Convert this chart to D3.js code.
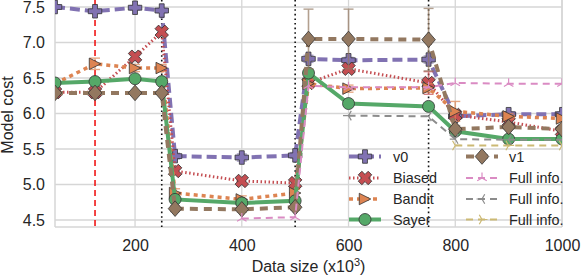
<!DOCTYPE html>
<html><head><meta charset="utf-8">
<script src="https://cdn.jsdelivr.net/npm/d3@7"></script>
<style>body{margin:0;background:#fff;} svg{display:block;font-family:"Liberation Sans",Arial,sans-serif;}</style>
</head><body>
<svg id="c" width="581" height="278"></svg>
<script>
// ---- data ----
const xs = [50,125,200,250,275,400,500,525,600,750,800,900,1000];
const v0     = [7.50,7.44,7.49,7.45,5.40,5.38,5.41,6.77,6.75,6.76,5.96,5.99,5.99];
const biased = [6.30,6.30,6.80,7.15,5.19,5.05,5.02,6.43,6.63,6.43,5.98,5.88,5.75];
const bandit = [6.42,6.70,6.64,6.64,4.88,4.79,4.88,6.42,6.35,6.36,6.03,5.96,5.93];
const sayer  = [6.43,6.45,6.49,6.45,4.79,4.74,4.77,6.57,6.14,6.10,5.75,5.64,5.64];
const v1     = [6.29,6.29,6.29,6.29,4.66,4.65,4.68,7.05,7.05,7.04,5.78,5.81,5.78];
const v0Err     = [0.03,0.03,0.03,0.03,0.04,0.05,0.04,0.05,0.04,0.05,0.04,0.03,0.03];
const biasedErr = [0.03,0.03,0.05,0.05,0.05,0.04,0.05,0.06,0.05,0.16,0.05,0.04,0.04];
const banditErr = [0.03,0.08,0.05,0.05,0.06,0.05,0.05,0.06,0.05,0.06,0.14,0.04,0.04];
const sayerErr  = [0.02,0.02,0.02,0.02,0.03,0.03,0.03,0.04,0.03,0.03,0.03,0.02,0.02];
const v1Err     = [0.02,0.02,0.02,0.02,0.04,0.04,0.04,0.42,0.42,0.44,0.05,0.03,0.03];
const fullA_x = [400,500,525,600,750,800,900,1000];
const fullA   = [4.52,4.54,6.39,6.37,6.37,6.43,6.42,6.42];
const fullB_x = [600,750,800,900,1000];
const fullB   = [5.97,5.96,5.64,5.63,5.63];
const fullC_x = [800,900,1000];
const fullC   = [5.55,5.55,5.55];
const xTicks = [200,400,600,800,1000];
const yTicks = [4.5,5.0,5.5,6.0,6.5,7.0,7.5];
const changePoints = [250,500,750];
const refLine = 125;

// ---- layout ----
const svg = d3.select("#c");
const L=55, R=562, T=-0.1, B=227.1;
const x = d3.scaleLinear().domain([50,1000]).range([L,R]);
const y = d3.scaleLinear().domain([4.4,7.6]).range([B,T]);
const gridC="#d6d6d6";
const textC="#262626";

svg.append("defs").append("clipPath").attr("id","clip")
  .append("rect").attr("x",L).attr("y",0).attr("width",R-L).attr("height",B);

// grid
const g = svg.append("g");
g.selectAll(".gx").data(xTicks).enter().append("line")
  .attr("x1",d=>x(d)).attr("x2",d=>x(d)).attr("y1",0).attr("y2",B)
  .attr("stroke",gridC).attr("stroke-width",1.3);
g.selectAll(".gy").data(yTicks).enter().append("line")
  .attr("x1",L).attr("x2",R).attr("y1",d=>y(d)).attr("y2",d=>y(d))
  .attr("stroke",gridC).attr("stroke-width",1.3);
// spines
g.append("line").attr("x1",L).attr("x2",L).attr("y1",0).attr("y2",B).attr("stroke",gridC).attr("stroke-width",1.5);
g.append("line").attr("x1",L).attr("x2",R).attr("y1",B).attr("y2",B).attr("stroke",gridC).attr("stroke-width",1.5);
g.append("line").attr("x1",R).attr("x2",R).attr("y1",0).attr("y2",B).attr("stroke",gridC).attr("stroke-width",1.5);

// axes (labels only)
const ax = d3.axisBottom(x).tickValues(xTicks).tickSize(0).tickPadding(13).tickFormat(d3.format("d"));
const xa = svg.append("g").attr("transform",`translate(0,${B})`).call(ax);
xa.select(".domain").remove();
xa.selectAll("text").attr("font-size",16).attr("fill",textC).attr("font-family","Liberation Sans, Arial, sans-serif");
const ay = d3.axisLeft(y).tickValues(yTicks).tickSize(0).tickPadding(10).tickFormat(d3.format(".1f"));
const ya = svg.append("g").attr("transform",`translate(${L},0)`).call(ay);
ya.select(".domain").remove();
ya.selectAll("text").attr("font-size",16).attr("fill",textC).attr("font-family","Liberation Sans, Arial, sans-serif");

// axis titles
const xt = svg.append("text").attr("x",(L+R)/2).attr("y",271.5).attr("text-anchor","middle")
  .attr("font-size",16).attr("fill",textC);
xt.append("tspan").text("Data size (x10");
xt.append("tspan").attr("dy",-6).attr("font-size",11).text("3");
xt.append("tspan").attr("dy",6).text(")");
svg.append("text").attr("transform","translate(13,115) rotate(-90)").attr("text-anchor","middle")
  .attr("font-size",16).attr("fill",textC).text("Model cost");

const plot = svg.append("g").attr("clip-path","url(#clip)");

// vertical reference lines
plot.selectAll(".cp").data(changePoints).enter().append("line")
  .attr("x1",d=>x(d)).attr("x2",d=>x(d)).attr("y1",0).attr("y2",B)
  .attr("stroke","#111").attr("stroke-width",1.6).attr("stroke-dasharray","1.6,3");
plot.append("line").attr("x1",x(refLine)).attr("x2",x(refLine)).attr("y1",0).attr("y2",B)
  .attr("stroke","#f01818").attr("stroke-width",1.6).attr("stroke-dasharray","6,4");

// marker shapes
function plusPath(s){const a=s*0.18, b=s*0.5;return `M${-a},${-b}H${a}V${-a}H${b}V${a}H${a}V${b}H${-a}V${a}H${-b}V${-a}H${-a}Z`;}
function triRight(s){const h=s*0.5;return `M${h},0L${-h},${-h}L${-h},${h}Z`;}
function diamond(w,h){return `M0,${-h}L${w},0L0,${h}L${-w},0Z`;}
function triLines(s,rot){const r=s*0.5;let p="";for(let k=0;k<3;k++){const a=(rot+k*120)*Math.PI/180;p+=`M0,0L${r*Math.cos(a)},${r*Math.sin(a)}`;}return p;}

function drawMarker(sel, type, color){
  if(type==="plus") sel.append("path").attr("d",plusPath(13.5)).attr("fill",color).attr("stroke","#333").attr("stroke-width",0.8);
  else if(type==="x") sel.append("path").attr("d",plusPath(14)).attr("transform","rotate(45)").attr("fill",color).attr("stroke","#333").attr("stroke-width",0.8);
  else if(type==="tri") sel.append("path").attr("d",triRight(11.5)).attr("fill",color).attr("stroke","#333").attr("stroke-width",0.8);
  else if(type==="circle") sel.append("circle").attr("r",6).attr("fill",color).attr("stroke","#333").attr("stroke-width",0.8);
  else if(type==="diamond") sel.append("path").attr("d",diamond(6.8,7.8)).attr("fill",color).attr("stroke","#333").attr("stroke-width",0.8);
  else if(type==="triup") sel.append("path").attr("d",triLines(11,-90)).attr("fill","none").attr("stroke",color).attr("stroke-width",1.2);
  else if(type==="trileft") sel.append("path").attr("d",triLines(11,180)).attr("fill","none").attr("stroke",color).attr("stroke-width",1.2);
  else if(type==="triright") sel.append("path").attr("d",triLines(11,0)).attr("fill","none").attr("stroke",color).attr("stroke-width",1.2);
}

const series = [
  {name:"v0", xs:xs, ys:v0, err:v0Err, color:"#8172b2", width:4, dash:"10,5", marker:"plus"},
  {name:"Biased", xs:xs, ys:biased, err:biasedErr, color:"#c44e52", width:3, dash:"1.5,2.5", marker:"x"},
  {name:"Bandit", xs:xs, ys:bandit, err:banditErr, color:"#dd8452", width:3.5, dash:"4,4", marker:"tri"},
  {name:"Sayer", xs:xs, ys:sayer, err:sayerErr, color:"#55a868", width:4, dash:null, marker:"circle"},
  {name:"v1", xs:xs, ys:v1, err:v1Err, color:"#937860", width:4, dash:"8,6", marker:"diamond"},
  {name:"Full info.", xs:fullA_x, ys:fullA, err:null, color:"#da8bc3", width:2, dash:"7,5", marker:"triup"},
  {name:"Full info.", xs:fullB_x, ys:fullB, err:null, color:"#8c8c8c", width:2, dash:"7,5", marker:"trileft"},
  {name:"Full info.", xs:fullC_x, ys:fullC, err:null, color:"#ccb974", width:2, dash:"7,5", marker:"triright"}
];

const line = d3.line().x(d=>x(d[0])).y(d=>y(d[1]));
series.forEach(s=>{
  const pts = s.xs.map((d,i)=>[d,s.ys[i], s.err?s.err[i]:0]);
  const gg = plot.append("g");
  if(s.err){
    const eb = gg.selectAll(".eb").data(pts).enter().append("g").attr("opacity",0.7);
    eb.append("line").attr("x1",d=>x(d[0])).attr("x2",d=>x(d[0])).attr("y1",d=>y(d[1]-d[2])).attr("y2",d=>y(d[1]+d[2]))
      .attr("stroke",s.color).attr("stroke-width",1.6);
    [1,-1].forEach(sg=>eb.append("line").attr("x1",d=>x(d[0])-5).attr("x2",d=>x(d[0])+5)
      .attr("y1",d=>y(d[1]+sg*d[2])).attr("y2",d=>y(d[1]+sg*d[2])).attr("stroke",s.color).attr("stroke-width",1.4));
  }
  gg.append("path").datum(pts).attr("d",line).attr("fill","none").attr("stroke",s.color)
    .attr("stroke-width",s.width).attr("stroke-dasharray",s.dash);
  pts.forEach(p=>{
    const m = gg.append("g").attr("transform",`translate(${x(p[0])},${y(p[1])})`);
    drawMarker(m, s.marker, s.color);
  });
});

// legend
const legRows=[156.5,178,199,219.5];
const legCols=[{x0:349,x1:381,tx:393},{x0:466,x1:498,tx:509}];
series.forEach((s,i)=>{
  const c = legCols[Math.floor(i/4)], yy = legRows[i%4];
  const lg = svg.append("g");
  lg.append("line").attr("x1",c.x0).attr("x2",c.x1).attr("y1",yy).attr("y2",yy)
    .attr("stroke",s.color).attr("stroke-width",s.width).attr("stroke-dasharray",s.dash);
  const m = lg.append("g").attr("transform",`translate(${(c.x0+c.x1)/2},${yy})`);
  drawMarker(m, s.marker, s.color);
  lg.append("text").attr("x",c.tx).attr("y",yy+5).attr("font-size",14.4).attr("fill",textC).text(s.name);
});
</script>
</body></html>
